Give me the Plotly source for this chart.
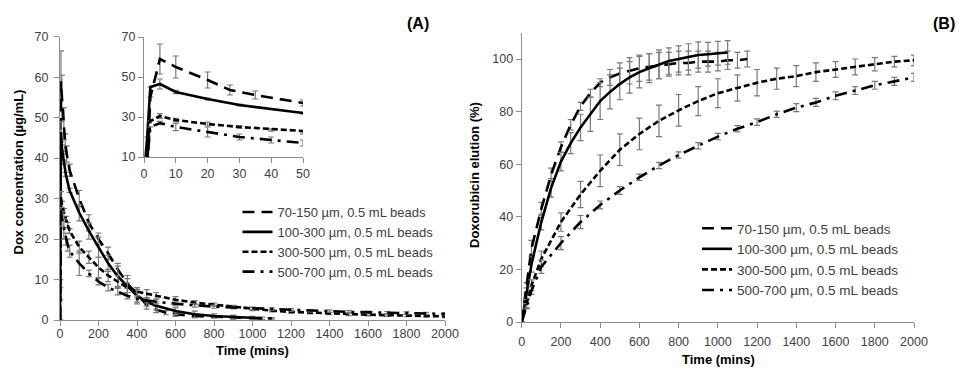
import plotly.graph_objects as go

# ---------------- Panel A: concentration (µg/mL) vs time (mins) ----------------
names = ["70-150 µm, 0.5 mL beads", "100-300 µm, 0.5 mL beads",
         "300-500 µm, 0.5 mL beads", "500-700 µm, 0.5 mL beads"]

a1_t = [0, 1, 2, 5, 10, 20, 27, 35, 50, 100, 150, 200, 250, 300, 350, 400, 450, 500, 550, 600, 700, 800, 900, 1000, 1100]
a1_y = [0, 5, 40, 59, 55, 48.5, 43.5, 41, 37, 30, 24, 20, 16.5, 12.5, 9, 6.5, 3.7, 2.6, 1.8, 1.4, 1.0, 0.8, 0.6, 0.5, 0.4]
a1_e = [0, 0, 0, 7.5, 5.5, 4, 2.5, 2, 1.5, 2, 2, 1.5, 1.5, 1.5, 1.2, 1, 1, 0.8, 0.5, 0.5, 0.4, 0.3, 0.3, 0.3, 0.2]

a2_t = [0, 1, 2, 5, 10, 20, 30, 50, 100, 150, 200, 250, 300, 350, 400, 450, 500, 600, 700, 800, 900, 1000, 1050]
a2_y = [0, 20, 45, 46.5, 42.5, 39, 36, 32, 26.5, 22, 18, 14, 10.8, 8.5, 6, 4.5, 3.5, 2.2, 1.4, 1.0, 0.7, 0.5, 0.4]
a2_e = [0, 0, 0, 2.5, 0.8, 0.5, 0.5, 0.5, 2, 2, 2.5, 2, 2.5, 2.5, 2, 1, 1, 0.8, 0.8, 0.5, 0.5, 0.4, 0.3]

a3_t = [0, 1, 2, 5, 10, 20, 30, 40, 50, 100, 150, 200, 250, 300, 350, 400, 450, 500, 600, 700, 800, 900, 1000,
        1100, 1200, 1300, 1400, 1500, 1600, 1700, 1800, 1900, 2000]
a3_y = [0, 10, 28, 30.5, 28.5, 26.5, 25, 23.5, 22, 18, 15.5, 13, 11, 9.5, 8, 7, 6.5, 6, 5, 4.3, 3.8, 3.2, 2.7,
        2.3, 2.0, 1.8, 1.6, 1.4, 1.3, 1.2, 1.1, 1.0, 0.9]
a3_e = [0, 0, 0, 1.2, 0.8, 1, 0.6, 0.6, 0.6, 1.5, 1.5, 2.5, 1.5, 1.5, 1.2, 1, 1, 0.8, 0.8, 0.5, 0.4, 0.4, 0.4,
        0.3, 0.3, 0.3, 0.3, 0.3, 0.3, 0.3, 0.3, 0.3, 0.3]

a4_t = [0, 1, 2, 5, 10, 20, 30, 40, 50, 100, 150, 200, 250, 300, 350, 400, 450, 500, 600, 700, 800, 900, 1000,
        1100, 1200, 1300, 1400, 1500, 1600, 1700, 1800, 1900, 2000]
a4_y = [0, 8, 25, 27, 25, 22.5, 20, 18.5, 17, 14, 11.5, 9.5, 8, 7, 6, 5.2, 4.8, 4.5, 4, 3.6, 3.3, 3.1, 2.9,
        2.7, 2.5, 2.3, 2.2, 2.0, 1.9, 1.8, 1.7, 1.6, 1.5]
a4_e = [0, 0, 0, 0.8, 1.8, 2.5, 1.5, 1.5, 1.5, 3, 0.8, 0.8, 0.8, 0.8, 0.8, 0.8, 0.6, 0.5, 0.5, 0.4, 0.4, 0.3,
        0.3, 0.3, 0.3, 0.3, 0.3, 0.3, 0.3, 0.3, 0.3, 0.3, 0.3]

# ---------------- Panel B: cumulative elution (%) vs time (mins) ----------------
b1_t = [0, 25, 50, 100, 150, 200, 250, 300, 350, 400, 450, 500, 550, 600, 650, 700, 750, 800, 850, 900,
        950, 1000, 1050, 1100, 1150]
b1_y = [0, 13, 28, 43, 56, 66.5, 75, 82, 87, 91, 93, 94.5, 95.5, 96.5, 97, 97.5, 98, 98.5, 98.5, 99,
        99, 99, 99.5, 99.5, 100]
b1_e = [0, 2, 3, 2.5, 2.5, 2, 2, 1.5, 1.5, 1.5, 3, 4, 5, 5, 5, 5, 4.5, 4.5, 4.5, 4, 4, 3.5, 3.5, 3, 3]

b2_t = [0, 25, 50, 100, 150, 200, 250, 300, 350, 400, 450, 500, 550, 600, 650, 700, 750, 800, 850, 900,
        950, 1000, 1050]
b2_y = [0, 11, 22, 38, 51, 61, 68, 74, 79, 84, 87.5, 90.5, 93, 95, 96.5, 98, 99.2, 100, 100.8, 101.5,
        101.8, 102.2, 102.5]
b2_e = [0, 2, 3, 3, 3.5, 3.5, 4, 5, 6.5, 7, 6.5, 6, 6, 6, 5.5, 5.5, 5, 5, 5, 5, 4.5, 4.5, 4.5]

b3_t = [0, 25, 50, 100, 200, 300, 400, 500, 600, 700, 800, 900, 1000, 1100, 1200, 1300, 1400, 1500,
        1600, 1700, 1800, 1900, 2000]
b3_y = [0, 7, 14, 24, 38, 48.5, 57.5, 65.5, 71.5, 76.5, 80.5, 84, 87, 89, 91, 92.5, 93.5, 95, 96, 97,
        98, 99, 99.5]
b3_e = [0, 1.5, 2, 3, 3.5, 5, 6, 6, 6, 6, 6, 5.5, 5.5, 5, 5, 4, 4, 3.5, 3, 3, 2.5, 2, 2]

b4_t = [0, 25, 50, 100, 200, 300, 400, 500, 600, 700, 800, 900, 1000, 1100, 1200, 1300, 1400, 1500,
        1600, 1700, 1800, 1900, 2000]
b4_y = [0, 6, 12, 21, 30, 38, 44.5, 50, 55, 59.5, 63.5, 67, 70.5, 73.5, 76, 79, 81.5, 83.5, 86, 88,
        90, 91.5, 93]
b4_e = [0, 1, 1.5, 2.5, 2.5, 2.5, 1.5, 1.5, 1.2, 1.2, 1.2, 1.2, 1.2, 1.2, 1.2, 1.2, 1.5, 1.5, 1.5, 1.5,
        1.5, 1.5, 1.5]

dashes = ["12px,7px", "solid", "6px,3px", "12px,6px,3px,6px"]
A_sets = [(a1_t, a1_y, a1_e), (a2_t, a2_y, a2_e), (a3_t, a3_y, a3_e), (a4_t, a4_y, a4_e)]
B_sets = [(b1_t, b1_y, b1_e), (b2_t, b2_y, b2_e), (b3_t, b3_y, b3_e), (b4_t, b4_y, b4_e)]

ERR = "#7a7a7a"
AX = "#8c8c8c"
TXT = "#404040"
FONT = "Liberation Sans, Arial, sans-serif"

fig = go.Figure()

def err(e):
    return dict(type="data", array=e, visible=True, color=ERR, thickness=1.2, width=3)

for i, (t, y, e) in enumerate(A_sets):
    fig.add_trace(go.Scatter(x=t, y=y, mode="lines", name=names[i], error_y=err(e),
                             line=dict(color="black", width=2.6, dash=dashes[i]),
                             xaxis="x", yaxis="y", legend="legend"))
for i, (t, y, e) in enumerate(A_sets):
    fig.add_trace(go.Scatter(x=t, y=y, mode="lines", showlegend=False, error_y=err(e),
                             line=dict(color="black", width=2.6, dash=dashes[i]),
                             xaxis="x3", yaxis="y3"))
for i, (t, y, e) in enumerate(B_sets):
    fig.add_trace(go.Scatter(x=t, y=y, mode="lines", name=names[i], error_y=err(e),
                             line=dict(color="black", width=2.6, dash=dashes[i]),
                             xaxis="x2", yaxis="y2", legend="legend2"))

W, H = 959, 368
def px(x0, x1):
    return [x0 / W, x1 / W]
def py(top, bottom):
    return [(H - bottom) / H, (H - top) / H]

axis_common = dict(showline=True, linecolor=AX, linewidth=1, ticks="outside", ticklen=5,
                   tickcolor=AX, showgrid=False, zeroline=False, automargin=False,
                   tickfont=dict(family=FONT, size=12.5, color=TXT))

fig.update_layout(
    template="none",
    width=W, height=H, margin=dict(l=0, r=0, t=0, b=0, pad=0),
    paper_bgcolor="white", plot_bgcolor="rgba(0,0,0,0)",
    font=dict(family=FONT, color=TXT),
    xaxis=dict(domain=px(60, 445), range=[0, 2000], dtick=200, anchor="y", ticklabelstandoff=-3, **axis_common),
    yaxis=dict(domain=py(36.7, 320), range=[0, 70], dtick=10, anchor="x", ticklabelstandoff=3, **axis_common),
    xaxis3=dict(domain=px(144, 303), range=[0, 50], dtick=10, anchor="y3", **axis_common),
    yaxis3=dict(domain=py(37, 157), range=[10, 70], tick0=10, dtick=20, anchor="x3", **axis_common),
    xaxis2=dict(domain=px(521.7, 914), range=[0, 2000], dtick=200, anchor="y2", ticklabelstandoff=3, **axis_common),
    yaxis2=dict(domain=py(32.7, 322), range=[0, 110], dtick=20, anchor="x2", **axis_common),
    legend=dict(x=237.5 / W, y=(H - 197) / H, xanchor="left", yanchor="top", bgcolor="rgba(0,0,0,0)",
                font=dict(family=FONT, size=13, color=TXT), tracegroupgap=0, itemwidth=30),
    legend2=dict(x=697 / W, y=(H - 213) / H, xanchor="left", yanchor="top", bgcolor="rgba(0,0,0,0)",
                 font=dict(family=FONT, size=13.5, color=TXT), tracegroupgap=0, itemwidth=30),
    showlegend=True,
)

ann = [
    dict(text="<b>(A)</b>", x=418, y=23, size=16),
    dict(text="<b>(B)</b>", x=944, y=23, size=16),
    dict(text="<b>Time (mins)</b>", x=252.5, y=350, size=13),
    dict(text="<b>Time (mins)</b>", x=718, y=359, size=13),
]
for a in ann:
    fig.add_annotation(text=a["text"], x=a["x"] / W, y=(H - a["y"]) / H, xref="paper", yref="paper",
                       showarrow=False, xanchor="center", yanchor="middle",
                       font=dict(family=FONT, size=a["size"], color="black"))
for txt, x, y in [("<b>Dox concentration (µg/mL)</b>", 18, 172.5),
                  ("<b>Doxorubicin elution (%)</b>", 475, 175)]:
    fig.add_annotation(text=txt, x=x / W, y=(H - y) / H, xref="paper", yref="paper", textangle=-90,
                       showarrow=False, xanchor="center", yanchor="middle",
                       font=dict(family=FONT, size=13, color="black"))

fig.write_html("out.html")
